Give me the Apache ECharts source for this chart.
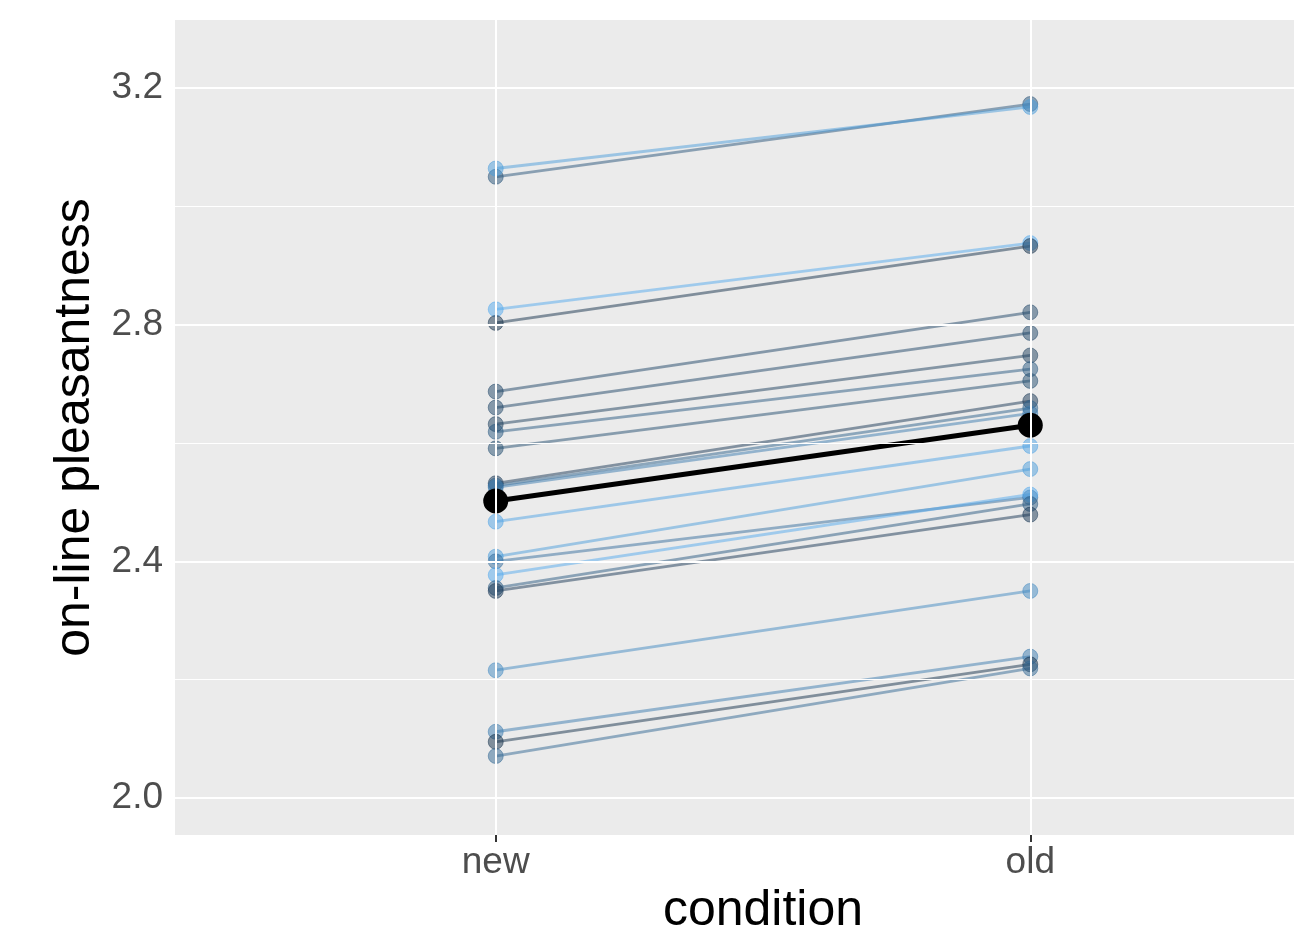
<!DOCTYPE html>
<html>
<head>
<meta charset="utf-8">
<script src="https://cdn.jsdelivr.net/npm/echarts@6/dist/echarts.min.js"></script>
<style>
  html, body { margin: 0; padding: 0; background: #fff; }
  #container { width: 1294px; height: 930px; }
</style>
</head>
<body>
<div id="container"></div>
<script>
const conditions = ['new', 'old']

// one entry per participant: pleasantness at "new" and "old", plus the colour variable
const newValues = [3.050, 3.064, 2.826, 2.803, 2.687, 2.660, 2.632, 2.619, 2.591, 2.532, 2.528,
  2.525, 2.467, 2.408, 2.400, 2.377, 2.355, 2.350, 2.216, 2.112, 2.095, 2.071]
const oldValues = [3.173, 3.168, 2.938, 2.933, 2.821, 2.786, 2.748, 2.725, 2.705, 2.671, 2.659,
  2.650, 2.595, 2.556, 2.508, 2.513, 2.497, 2.479, 2.350, 2.239, 2.226, 2.219]
const colourValues = [0.3, 0.85, 0.95, 0.05, 0.2, 0.2, 0.15, 0.35, 0.25, 0.1, 0.4,
  0.6, 0.9, 0.85, 0.5, 0.95, 0.35, 0.1, 0.7, 0.6, 0.05, 0.45]

const meanValues = [2.502, 2.630]

const yTicks = [2.0, 2.4, 2.8, 3.2]
const yMinorTicks = [2.2, 2.6, 3.0]

const low = [19, 43, 67]
const high = [86, 177, 247]
const gradient = t => {
  const c = low.map((l, i) => Math.round(l + (high[i] - l) * t))
  return `rgb(${c[0]},${c[1]},${c[2]})`
}

const dom = document.getElementById('container')
const myChart = echarts.init(dom)

const gridSeries = {
  type: 'line',
  data: [],
  silent: true,
  z: 0,
  markLine: {
    silent: true,
    symbol: 'none',
    label: { show: false },
    animation: false,
    data: [
      ...yTicks.map(v => ({ yAxis: v, lineStyle: { color: '#fff', width: 2, type: 'solid' } })),
      ...yMinorTicks.map(v => ({ yAxis: v, lineStyle: { color: '#fff', width: 1, type: 'solid' } })),
      ...conditions.map((c, i) => ({ xAxis: i, lineStyle: { color: '#fff', width: 2, type: 'solid' } }))
    ]
  }
}

const pairSeries = newValues.map((v, i) => {
  const col = gradient(colourValues[i])
  return {
    type: 'line',
    data: [[0, v], [1, oldValues[i]]],
    symbol: 'circle',
    symbolSize: 15,
    lineStyle: { color: col, width: 2.8, opacity: 0.5 },
    itemStyle: { color: col, opacity: 0.5, borderColor: col, borderWidth: 1 },
    emphasis: { disabled: true },
    z: 2
  }
})

const meanSeries = {
  type: 'line',
  data: meanValues.map((v, i) => [i, v]),
  symbol: 'circle',
  symbolSize: 25,
  lineStyle: { color: '#000', width: 5 },
  itemStyle: { color: '#000' },
  emphasis: { disabled: true },
  z: 3
}

const option = {
  backgroundColor: '#fff',
  animation: false,
  grid: {
    left: 175,
    right: -57,
    top: 20,
    bottom: 95,
    outerBoundsMode: 'none',
    containLabel: false,
    show: true,
    backgroundColor: '#EBEBEB',
    borderWidth: 0
  },
  xAxis: {
    type: 'value',
    min: -0.6,
    max: 1.6,
    name: 'condition',
    nameLocation: 'middle',
    nameGap: 50,
    nameTextStyle: { fontFamily: 'Liberation Sans', fontSize: 50, color: '#000' },
    axisLine: { show: false },
    splitLine: { show: false },
    axisTick: { show: true, customValues: [0, 1], length: 7, lineStyle: { color: '#333', width: 2 } },
    axisLabel: {
      customValues: [0, 1],
      formatter: v => conditions[Math.round(v)],
      fontFamily: 'Liberation Sans',
      fontSize: 37,
      color: '#4D4D4D',
      margin: 9
    }
  },
  yAxis: {
    type: 'value',
    min: 1.9375,
    max: 3.315,
    name: 'on-line pleasantness',
    nameLocation: 'middle',
    nameGap: 72,
    nameTextStyle: { fontFamily: 'Liberation Sans', fontSize: 50, color: '#000' },
    axisLine: { show: false },
    splitLine: { show: false },
    axisTick: { show: true, customValues: yTicks, length: 7, lineStyle: { color: '#333', width: 2 } },
    axisLabel: {
      customValues: yTicks,
      formatter: v => v.toFixed(1),
      fontFamily: 'Liberation Sans',
      fontSize: 37,
      color: '#4D4D4D',
      margin: 12
    }
  },
  series: [gridSeries, ...pairSeries, meanSeries]
}

myChart.setOption(option)
</script>
</body>
</html>
